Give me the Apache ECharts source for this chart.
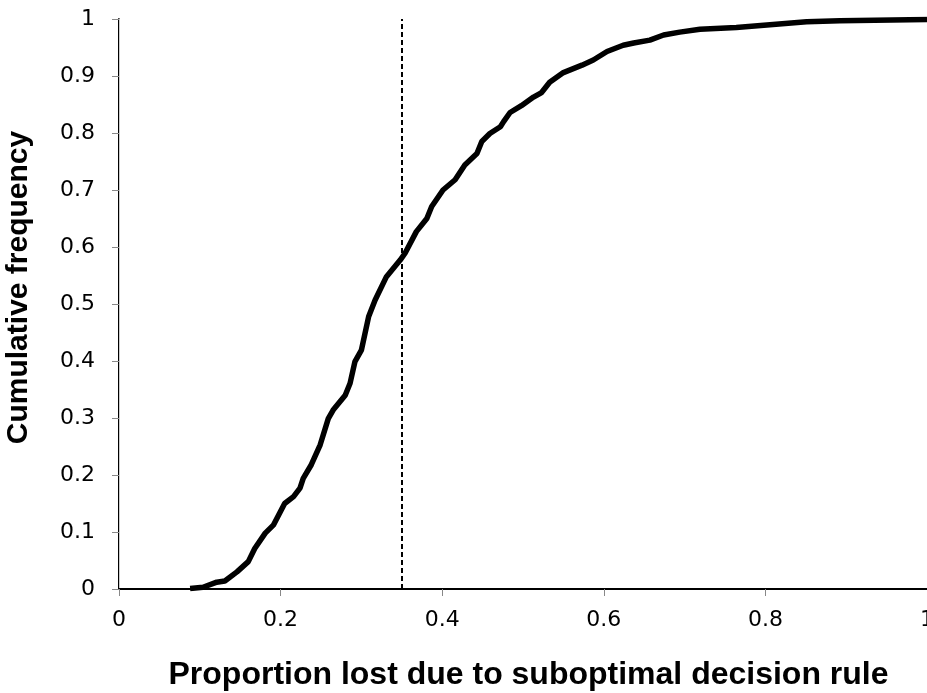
<!DOCTYPE html>
<html>
<head>
<meta charset="utf-8">
<script src="https://cdn.jsdelivr.net/npm/echarts@6/dist/echarts.min.js"></script>
<style>
html,body{margin:0;padding:0;background:#fff;}
#c{width:927px;height:693px;}
</style>
</head>
<body>
<div id="c"></div>
<script>
const xValues = [0.088,0.104,0.121,0.131,0.146,0.160,0.168,0.181,0.191,0.205,0.216,0.224,0.228,0.238,0.249,0.259,0.265,0.280,0.286,0.292,0.300,0.309,0.317,0.331,0.348,0.354,0.368,0.381,0.387,0.401,0.416,0.428,0.443,0.449,0.459,0.472,0.476,0.484,0.498,0.513,0.523,0.533,0.550,0.573,0.587,0.604,0.624,0.637,0.657,0.674,0.694,0.719,0.764,0.851,0.892,1.0];
const cumFreq = [0.001,0.003,0.012,0.014,0.030,0.048,0.071,0.098,0.112,0.150,0.162,0.177,0.194,0.218,0.253,0.299,0.314,0.340,0.361,0.399,0.419,0.478,0.507,0.548,0.577,0.589,0.627,0.650,0.671,0.700,0.718,0.744,0.764,0.785,0.799,0.811,0.820,0.836,0.848,0.863,0.871,0.889,0.906,0.919,0.928,0.943,0.954,0.958,0.963,0.972,0.977,0.982,0.985,0.995,0.997,0.999];
const dashedX = 0.352;
const xTitle = 'Proportion lost due to suboptimal decision rule';
const yTitle = 'Cumulative frequency';

const font = '"Liberation Sans", Arial, sans-serif';
const tickFont = '"DejaVu Sans", sans-serif';
const chart = echarts.init(document.getElementById('c'), null, {renderer: 'canvas'});
chart.setOption({
  animation: false,
  backgroundColor: '#fff',
  grid: {left: 119, right: 0, top: 19, bottom: 104, containLabel: false, outerBoundsMode: 'none'},
  xAxis: [{
    type: 'value', min: 0, max: 1, interval: 0.2,
    axisLine: {show: true, onZero: false, lineStyle: {color: '#000', width: 2}},
    axisTick: {show: true, length: 7, lineStyle: {color: '#888', width: 1}},
    axisLabel: {color: '#000', fontFamily: tickFont, fontSize: 22, margin: 20, formatter: v => String(+v.toFixed(1))},
    splitLine: {show: false},
    name: xTitle, nameLocation: 'middle', nameGap: 70,
    nameTextStyle: {color: '#000', fontFamily: font, fontSize: 32, fontWeight: 'bold', padding: [0, 0, 0, 11]}
  }, {
    type: 'value', min: 0, max: 1, position: 'top',
    axisLine: {show: true, lineStyle: {color: '#000', width: 2}},
    axisTick: {show: false}, axisLabel: {show: false}, splitLine: {show: false}
  }],
  yAxis: [{
    type: 'value', min: 0, max: 1, interval: 0.1,
    axisLine: {show: true, onZero: false, lineStyle: {color: '#000', width: 2}},
    axisTick: {show: true, length: 7, lineStyle: {color: '#888', width: 1}},
    axisLabel: {color: '#000', fontFamily: tickFont, fontSize: 22, margin: 24, formatter: v => String(+v.toFixed(1))},
    splitLine: {show: false},
    name: yTitle, nameLocation: 'middle', nameGap: 85, nameRotate: 90,
    nameTextStyle: {color: '#000', fontFamily: font, fontSize: 30, fontWeight: 'bold', padding: [0, 0, 0, 33]}
  }, {
    type: 'value', min: 0, max: 1, position: 'right',
    axisLine: {show: true, lineStyle: {color: '#ccc', width: 1}},
    axisTick: {show: false}, axisLabel: {show: false}, splitLine: {show: false}
  }],
  series: [{
    type: 'line',
    data: xValues.map((x, i) => [x, cumFreq[i]]),
    showSymbol: false,
    smooth: false,
    lineStyle: {color: '#000', width: 5.5},
    markLine: {
      silent: true, symbol: 'none', label: {show: false},
      lineStyle: {color: '#000', width: 2, type: [5, 3]},
      data: [{xAxis: dashedX}]
    }
  }]
});
</script>
</body>
</html>
